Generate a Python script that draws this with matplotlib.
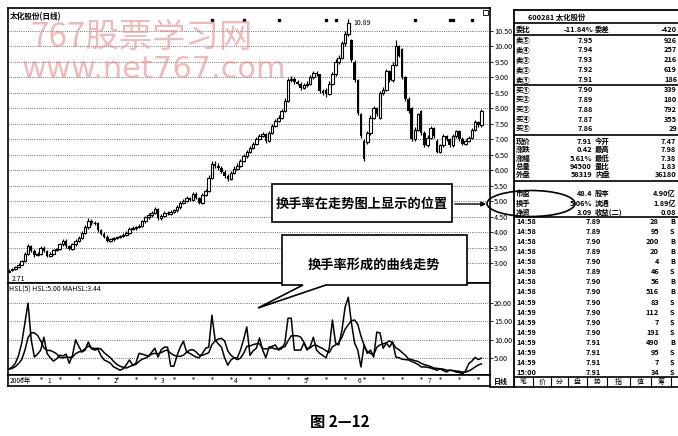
import numpy as np
import matplotlib.pyplot as plt
from matplotlib.patches import Rectangle, Polygon, Ellipse

plt.rcParams['font.family'] = ['Noto Sans CJK SC', 'DejaVu Sans']

# daily candles (Dec 2006 - Jul 2007)
opens = np.array([
    2.72, 2.76, 2.80, 2.86, 2.95, 3.06, 3.30, 3.55, 3.40, 3.25,
    3.30, 3.50, 3.38, 3.24, 3.30, 3.42, 3.46, 3.60, 3.72, 3.55,
    3.46, 3.60, 3.72, 3.80, 3.98, 4.15, 4.37, 4.28, 4.30, 4.05,
    3.95, 3.85, 3.72, 3.76, 3.80, 3.84, 3.88, 3.92, 3.98, 4.10,
    4.12, 4.15, 4.20, 4.35, 4.47, 4.55, 4.62, 4.75, 4.45, 4.52,
    4.63, 4.58, 4.66, 4.70, 4.80, 4.95, 5.00, 5.10, 5.05, 5.24,
    5.10, 4.95, 5.20, 5.34, 5.76, 6.20, 6.15, 6.08, 5.95, 5.80,
    5.72, 5.90, 6.05, 6.15, 6.30, 6.45, 6.60, 6.72, 6.85, 7.00,
    7.10, 7.17, 6.95, 7.20, 7.43, 7.60, 7.70, 7.92, 8.24, 8.90,
    8.95, 8.85, 8.80, 8.67, 8.75, 8.80, 9.00, 9.15, 9.10, 8.56,
    8.60, 8.46, 8.80, 9.10, 9.50, 9.63, 10.10, 10.40, 10.20, 9.50,
    8.90, 7.80, 6.95, 6.90, 7.20, 7.70, 8.00, 7.70, 8.50, 8.60,
    9.20, 8.90, 9.40, 10.00, 9.90, 9.00, 8.30, 8.00, 7.00, 7.30,
    7.90, 7.20, 6.80, 7.05, 7.35, 6.95, 6.60, 6.80, 7.10, 7.00,
    6.80, 7.10, 7.25, 7.00, 6.85, 6.95, 7.05, 7.30, 7.55, 7.45])
high = np.array([
    2.80, 2.84, 2.90, 2.99, 3.10, 3.36, 3.62, 3.58, 3.44, 3.36,
    3.56, 3.54, 3.42, 3.34, 3.46, 3.50, 3.66, 3.78, 3.76, 3.58,
    3.66, 3.78, 3.86, 4.04, 4.22, 4.45, 4.42, 4.36, 4.34, 4.10,
    4.00, 3.90, 3.80, 3.84, 3.88, 3.92, 3.96, 4.02, 4.16, 4.18,
    4.20, 4.26, 4.40, 4.52, 4.62, 4.68, 4.82, 4.78, 4.58, 4.68,
    4.68, 4.70, 4.76, 4.86, 5.00, 5.06, 5.16, 5.14, 5.30, 5.28,
    5.14, 5.26, 5.40, 5.84, 6.30, 6.30, 6.22, 6.14, 6.00, 5.86,
    5.96, 6.12, 6.22, 6.36, 6.52, 6.66, 6.78, 6.92, 7.06, 7.16,
    7.24, 7.20, 7.26, 7.50, 7.66, 7.78, 7.98, 8.32, 8.98, 9.05,
    9.00, 8.92, 8.86, 8.82, 8.88, 9.08, 9.22, 9.20, 9.12, 8.62,
    8.66, 8.88, 9.18, 9.58, 9.72, 10.18, 10.50, 10.89, 10.25, 9.55,
    8.95, 7.85, 7.00, 7.28, 7.78, 8.08, 8.05, 8.56, 8.68, 9.28,
    9.25, 9.48, 10.20, 10.05, 9.95, 9.05, 8.35, 8.05, 7.38, 7.86,
    7.95, 7.25, 7.12, 7.42, 7.40, 7.00, 6.86, 7.16, 7.14, 7.05,
    7.16, 7.30, 7.30, 7.06, 7.00, 7.10, 7.36, 7.62, 7.60, 7.98])
low = np.array([
    2.71, 2.74, 2.78, 2.84, 2.92, 3.02, 3.26, 3.36, 3.20, 3.22,
    3.26, 3.34, 3.20, 3.20, 3.26, 3.38, 3.42, 3.56, 3.50, 3.42,
    3.42, 3.56, 3.68, 3.76, 3.94, 4.10, 4.22, 4.24, 4.00, 3.90,
    3.80, 3.68, 3.68, 3.72, 3.76, 3.80, 3.84, 3.88, 3.94, 4.06,
    4.08, 4.12, 4.16, 4.30, 4.42, 4.50, 4.58, 4.40, 4.40, 4.48,
    4.54, 4.54, 4.62, 4.66, 4.76, 4.90, 4.96, 5.00, 5.00, 5.06,
    4.90, 4.92, 5.16, 5.30, 5.70, 6.08, 6.02, 5.90, 5.74, 5.66,
    5.68, 5.86, 6.00, 6.10, 6.26, 6.40, 6.56, 6.68, 6.80, 6.96,
    7.06, 6.88, 6.90, 7.16, 7.38, 7.56, 7.66, 7.88, 8.20, 8.84,
    8.78, 8.74, 8.60, 8.62, 8.70, 8.76, 8.94, 9.04, 8.50, 8.42,
    8.38, 8.42, 8.76, 9.05, 9.44, 9.58, 10.02, 10.35, 9.50, 8.85,
    7.78, 7.05, 6.28, 6.85, 7.15, 7.65, 7.74, 7.66, 8.44, 8.55,
    8.85, 8.84, 9.35, 9.65, 8.95, 8.25, 7.85, 6.95, 6.95, 7.25,
    7.15, 6.75, 6.75, 7.00, 7.05, 6.55, 6.55, 6.76, 6.95, 6.75,
    6.76, 7.05, 6.95, 6.80, 6.82, 6.90, 7.00, 7.25, 7.40, 7.40])
close = np.array([
    2.75, 2.80, 2.86, 2.95, 3.05, 3.30, 3.55, 3.40, 3.25, 3.30,
    3.50, 3.38, 3.24, 3.30, 3.42, 3.46, 3.60, 3.72, 3.55, 3.46,
    3.60, 3.72, 3.80, 3.98, 4.15, 4.37, 4.28, 4.30, 4.05, 3.95,
    3.85, 3.72, 3.76, 3.80, 3.84, 3.88, 3.92, 3.98, 4.10, 4.12,
    4.15, 4.20, 4.35, 4.47, 4.55, 4.62, 4.75, 4.45, 4.52, 4.63,
    4.58, 4.66, 4.70, 4.80, 4.95, 5.00, 5.10, 5.05, 5.24, 5.10,
    4.95, 5.20, 5.34, 5.76, 6.20, 6.15, 6.08, 5.95, 5.80, 5.72,
    5.90, 6.05, 6.15, 6.30, 6.45, 6.60, 6.72, 6.85, 7.00, 7.10,
    7.17, 6.95, 7.20, 7.43, 7.60, 7.70, 7.92, 8.24, 8.90, 8.95,
    8.85, 8.80, 8.67, 8.75, 8.80, 9.00, 9.15, 9.10, 8.56, 8.50,
    8.46, 8.80, 9.10, 9.50, 9.63, 10.10, 10.40, 10.75, 9.55, 8.90,
    7.85, 7.10, 6.35, 7.20, 7.70, 8.00, 7.80, 8.50, 8.60, 9.20,
    8.90, 9.40, 10.00, 9.70, 9.00, 8.30, 7.90, 7.00, 7.30, 7.80,
    7.20, 6.80, 7.05, 7.35, 7.10, 6.60, 6.80, 7.10, 7.00, 6.80,
    7.10, 7.25, 7.00, 6.85, 6.95, 7.05, 7.30, 7.55, 7.45, 7.91])

# turnover rate and its 5 day average
hsl = np.array([
    2.0, 2.6, 3.6, 5.7, 9.1, 14.6, 20.0, 10.0, 5.3, 6.1,
    7.2, 10.7, 6.3, 5.1, 4.2, 4.8, 5.8, 5.6, 6.1, 3.6,
    5.7, 10.0, 8.2, 6.7, 7.2, 9.4, 7.6, 7.2, 7.5, 5.7,
    4.5, 4.1, 3.6, 2.6, 2.2, 1.7, 2.1, 3.2, 4.5, 3.1,
    3.6, 6.3, 6.1, 5.8, 5.6, 6.6, 7.7, 5.3, 7.3, 8.0,
    8.0, 2.8, 2.8, 5.7, 8.0, 9.6, 6.7, 6.3, 5.8, 5.3,
    5.1, 6.3, 7.7, 8.0, 16.7, 10.0, 8.9, 8.0, 5.1, 3.1,
    4.5, 5.1, 5.1, 7.2, 10.1, 13.5, 5.8, 7.0, 7.7, 10.5,
    7.2, 5.1, 8.0, 8.2, 8.6, 7.2, 7.6, 9.1, 15.9, 15.9,
    7.2, 7.2, 7.2, 9.1, 7.2, 8.2, 10.7, 7.2, 6.3, 5.7,
    5.1, 7.7, 15.4, 9.1, 8.6, 12.6, 18.9, 21.6, 14.6, 9.1,
    7.2, 2.6, 8.6, 6.3, 7.2, 5.3, 12.1, 11.9, 7.7, 9.1,
    8.0, 9.4, 5.3, 5.1, 4.7, 4.6, 4.5, 4.1, 3.7, 3.3,
    2.6, 2.6, 2.5, 2.3, 2.0, 1.7, 2.1, 1.6, 1.2, 1.7,
    1.6, 1.2, 1.1, 0.7, 1.5, 3.5, 4.2, 5.2, 4.6, 5.0])
mahsl = np.array([
    2.0, 2.2, 2.7, 3.5, 4.6, 7.1, 10.6, 11.9, 11.9, 11.2,
    9.7, 7.8, 7.1, 7.1, 6.7, 6.2, 5.2, 5.1, 5.3, 5.2,
    5.3, 6.2, 6.7, 6.8, 7.6, 8.3, 7.8, 7.6, 7.7, 7.5,
    6.5, 5.8, 5.1, 4.1, 3.3, 2.8, 2.5, 2.3, 2.7, 3.0,
    3.3, 4.1, 4.7, 5.0, 5.5, 6.1, 6.3, 6.2, 6.5, 7.0,
    7.2, 6.3, 5.8, 5.5, 5.5, 5.8, 6.6, 7.2, 7.3, 6.7,
    5.8, 5.8, 6.1, 6.5, 8.7, 9.7, 10.2, 10.4, 9.7, 7.0,
    5.8, 5.1, 4.6, 5.0, 6.3, 8.2, 8.3, 8.7, 8.9, 8.9,
    7.6, 7.5, 7.7, 7.8, 7.5, 7.5, 8.0, 8.1, 9.7, 11.1,
    11.1, 11.1, 10.7, 9.4, 7.6, 7.8, 8.5, 8.5, 8.0, 7.6,
    7.0, 6.5, 8.1, 8.6, 9.2, 10.7, 12.9, 14.1, 15.2, 15.4,
    14.2, 11.0, 8.5, 6.7, 6.3, 5.9, 8.0, 8.6, 8.9, 9.2,
    9.7, 9.2, 7.8, 7.3, 6.5, 5.8, 4.8, 4.6, 4.3, 4.1,
    3.6, 3.2, 3.0, 2.7, 2.3, 2.2, 2.1, 2.0, 1.7, 1.7,
    1.6, 1.5, 1.4, 1.2, 1.2, 1.5, 2.0, 2.6, 3.1, 3.44])

marker_idx = [64, 74, 85, 100, 103, 128, 139, 140, 146]
month_idx = [12, 33, 48, 71, 93, 110, 132]
month_lbl = ['1', '2', '3', '4', '5', '6', '7']
price_ticks = np.arange(3.0, 10.51, 0.5)
hsl_ticks = [5, 10, 15, 20]

book_lbl = ['卖⑤', '卖④', '卖③', '卖②', '卖①', '买①', '买②', '买③', '买④', '买⑤']
book_px = ['7.95', '7.94', '7.93', '7.92', '7.91', '7.90', '7.89', '7.88', '7.87', '7.86']
book_vol = ['926', '257', '216', '619', '186', '339', '180', '792', '355', '29']
stat_l1 = ['现价', '涨跌', '涨幅', '总量', '外盘']
stat_v1 = ['7.91', '0.42', '5.61%', '94500', '58319']
stat_l2 = ['今开', '最高', '最低', '量比', '内盘']
stat_v2 = ['7.47', '7.98', '7.38', '1.83', '36180']
fin_l1 = ['市盈', '换手', '净资']
fin_v1 = ['48.4', '5.06%', '3.09']
fin_l2 = ['股本', '流通', '收益(二)']
fin_v2 = ['4.90亿', '1.89亿', '0.08']
tick_time = ['14:58'] * 8 + ['14:59'] * 7 + ['15:00']
tick_px = ['7.89', '7.89', '7.90', '7.89', '7.90', '7.89', '7.90', '7.90',
           '7.90', '7.90', '7.90', '7.90', '7.91', '7.91', '7.91', '7.91']
tick_vol = ['28', '95', '200', '20', '4', '46', '56', '516',
            '83', '112', '7', '191', '490', '95', '7', '34']
tick_bs = ['B', 'S', 'B', 'B', 'B', 'S', 'B', 'B',
           'S', 'S', 'S', 'S', 'B', 'S', 'S', 'S']
tabs = ['笔', '价', '分', '盘', '势', '指', '值', '筹']

W, H = 678, 436
fig = plt.figure(figsize=(W / 100, H / 100), dpi=100)


def place(x0, y0, x1, y1):
    return [x0 / W, 1 - y1 / H, (x1 - x0) / W, (y1 - y0) / H]


idx = np.arange(len(close))
xlim = (-0.32, 151.7)
dots = (0, (1, 1.6))

# price panel
ax = fig.add_axes(place(8, 8, 490, 283))
up = close >= opens
ax.vlines(idx, low, high, color='k', lw=0.9, zorder=2)
ax.bar(idx[up], close[up] - opens[up], bottom=opens[up], width=0.8,
       facecolor='white', edgecolor='k', lw=0.8, zorder=3)
ax.bar(idx[~up], opens[~up] - close[~up], bottom=close[~up], width=0.8,
       color='k', zorder=3)
ax.plot(marker_idx, [0.958] * len(marker_idx), 's', color='k', ms=1.6,
        transform=ax.get_xaxis_transform())
ip = int(np.argmax(high))
ax.annotate('10.89', xy=(ip, high[ip]), xytext=(4, -3), textcoords='offset points',
            fontsize=5, va='center', arrowprops=dict(arrowstyle='-', lw=0.5))
il = int(np.argmin(low))
ax.annotate('2.71', xy=(il, low[il]), xytext=(2, -5), textcoords='offset points',
            fontsize=5, va='center')
ax.set_xlim(*xlim)
ax.set_ylim(2.353, 11.24)
ax.set_xticks([])
ax.set_yticks(price_ticks)
ax.set_yticklabels(['%.2f' % v for v in price_ticks])
ax.yaxis.tick_right()
ax.tick_params(axis='y', labelsize=5.2, length=2, pad=1, width=0.6)
ax.grid(axis='y', ls=dots, color='#444444', lw=0.6)
ax.set_axisbelow(True)
for s in ax.spines.values():
    s.set_linewidth(1.2)
ax.text(0.003, 0.985, '太化股份(日线)', transform=ax.transAxes, fontsize=5.5,
        fontweight='bold', va='top')

# turnover panel
ax2 = fig.add_axes(place(8, 283, 490, 375))
ax2.plot(idx, hsl, color='k', lw=1.1)
ax2.plot(idx, mahsl, color='k', lw=1.1)
ax2.set_xlim(*xlim)
ax2.set_ylim(0.4, 25.5)
ax2.set_xticks([])
ax2.set_yticks(hsl_ticks)
ax2.set_yticklabels(['%.2f' % v for v in hsl_ticks])
ax2.yaxis.tick_right()
ax2.tick_params(axis='y', labelsize=5.2, length=2, pad=1, width=0.6)
ax2.grid(axis='y', ls=dots, color='#444444', lw=0.6)
for s in ax2.spines.values():
    s.set_linewidth(1.2)
ax2.text(0.003, 0.97, 'HSL(5) HSL:%.2f MAHSL:%.2f' % (hsl[-1], mahsl[-1]),
         transform=ax2.transAxes, fontsize=5, va='top')

# date row
ax3 = fig.add_axes(place(8, 375, 490, 386))
ax3.set_xlim(*xlim)
ax3.set_ylim(0, 1)
ax3.set_xticks([])
ax3.set_yticks([])
for s in ax3.spines.values():
    s.set_linewidth(1.2)
ax3.text(0.3, 0.5, '2006年', fontsize=4.8, va='center')
for m, lb in zip(month_idx, month_lbl):
    ax3.text(m, 0.5, lb, fontsize=4.8, va='center')
ax3.plot(np.arange(4, 150, 6), [0.7] * len(np.arange(4, 150, 6)), '.', color='k', ms=1)

# overlay in pixel coordinates for the quote table and notes
ov = fig.add_axes([0, 0, 1, 1])
ov.set_xlim(0, W)
ov.set_ylim(H, 0)
ov.axis('off')

ov.text(30, 38, '767股票学习网', fontsize=24, color='#e48f8f', alpha=0.6, va='center')
ov.text(22, 69, 'www.net767.com', fontsize=22, color='#e48f8f', alpha=0.6,
        va='center', family='DejaVu Sans')

ov.add_patch(Rectangle((483, 10), 5, 5, fill=False, lw=0.6))

kw = dict(fontsize=5.3, fontweight='bold', va='center')
ov.plot([514, 514], [10, 387], color='k', lw=1.3)
ov.plot([514, 678], [10, 10], color='k', lw=1.3)
for yy in [23.5, 35, 85, 135, 181, 217, 377]:
    ov.plot([514, 678], [yy, yy], color='k', lw=1.2)
ov.text(557, 17, '600281 太化股份', ha='center', **kw)
ov.text(516, 29, '委比', **kw)
ov.text(593, 29, '-11.84%', ha='right', **kw)
ov.text(595, 29, '委差', **kw)
ov.text(677, 29, '-420', ha='right', **kw)
book_y = [40.5, 50, 60, 70, 80, 90, 99.5, 109, 119, 128]
for lb, p, v, yy in zip(book_lbl, book_px, book_vol, book_y):
    ov.text(516, yy, lb, **kw)
    ov.text(593, yy, p, ha='right', **kw)
    ov.text(677, yy, v, ha='right', **kw)
stat_y = [141, 149.5, 158, 166, 174.5]
for a, b, c, d, yy in zip(stat_l1, stat_v1, stat_l2, stat_v2, stat_y):
    ov.text(516, yy, a, **kw)
    ov.text(592, yy, b, ha='right', **kw)
    ov.text(595, yy, c, **kw)
    ov.text(676, yy, d, ha='right', **kw)
fin_y = [193, 203, 212]
for a, b, c, d, yy in zip(fin_l1, fin_v1, fin_l2, fin_v2, fin_y):
    ov.text(516, yy, a, **kw)
    ov.text(592, yy, b, ha='right', **kw)
    ov.text(595, yy, c, **kw)
    ov.text(676, yy, d, ha='right', **kw)
for k, (t, p, v, bs) in enumerate(zip(tick_time, tick_px, tick_vol, tick_bs)):
    yy = 221 + 10.13 * k
    ov.text(516, yy, t, **kw)
    ov.text(601, yy, p, ha='right', **kw)
    ov.text(659, yy, v, ha='right', **kw)
    ov.text(670, yy, bs, **kw)

# bottom tab strip
ov.text(501, 381.5, '日线', ha='center', fontsize=5, fontweight='bold', va='center')
tab_sep = [514, 533, 551, 568, 587, 607, 630, 651, 671]
for xs in tab_sep:
    ov.plot([xs, xs], [377, 387], color='k', lw=0.8)
ov.plot([490, 678], [387, 387], color='k', lw=1.2)
for a, b, lb in zip(tab_sep[:-1], tab_sep[1:], tabs):
    ov.text((a + b) / 2, 382, lb, ha='center', fontsize=5, va='center')

# note 1: where the turnover shows on the chart
ov.add_patch(Rectangle((272, 184), 180, 38, facecolor='white', edgecolor='k', lw=1.2))
ov.text(362, 203.5, '换手率在走势图上显示的位置', ha='center', va='center',
        fontsize=9.5, fontweight='bold')
ov.annotate('', xy=(489, 204), xytext=(452, 204),
            arrowprops=dict(arrowstyle='-|>', lw=1.0, color='k', mutation_scale=7))
ov.add_patch(Ellipse((531, 203.5), 88, 26, fill=False, lw=1.2))

# note 2: turnover curve
ov.add_patch(Polygon([(282, 235), (467, 235), (467, 285), (326, 285), (258, 308),
                      (303, 285), (282, 285)], closed=True,
                     facecolor='white', edgecolor='k', lw=1.2))
ov.text(374, 265, '换手率形成的曲线走势', ha='center', va='center',
        fontsize=9.5, fontweight='bold')

ov.text(340, 422, '图 2—12', ha='center', va='center', fontsize=11, fontweight='bold')

fig.savefig('out.png', dpi=100, facecolor='white')
